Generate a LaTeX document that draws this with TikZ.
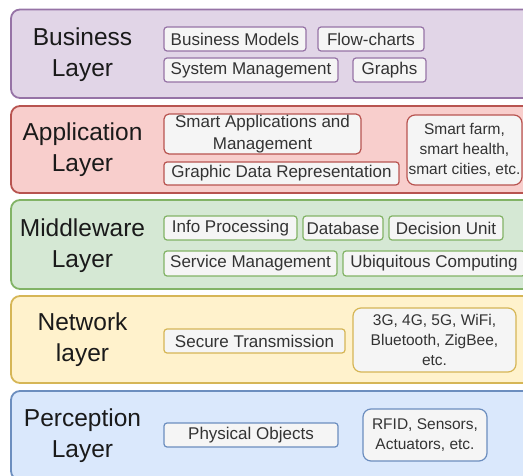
\documentclass[tikz,border=0pt]{standalone}
\usepackage{fontspec}
\setmainfont{Liberation Sans}
\definecolor{bizfill}{HTML}{E1D5E7}\definecolor{bizline}{HTML}{9673A6}
\definecolor{appfill}{HTML}{F8CECC}\definecolor{appline}{HTML}{B85450}
\definecolor{midfill}{HTML}{D5E8D4}\definecolor{midline}{HTML}{82B366}
\definecolor{netfill}{HTML}{FFF2CC}\definecolor{netline}{HTML}{D6B656}
\definecolor{perfill}{HTML}{DAE8FC}\definecolor{perline}{HTML}{6C8EBF}
\definecolor{boxfill}{HTML}{F5F5F5}\definecolor{boxtext}{HTML}{333333}
\definecolor{labeltext}{HTML}{1A1A1A}
\begin{document}
\begin{tikzpicture}[x=1pt,y=-1pt,
  layerbox/.style={draw, rounded corners=9pt, line width=1.8pt, inner sep=0pt, minimum width=534pt},
  layertitle/.style={align=center, text=labeltext, inner sep=0pt,
    font=\fontsize{24.5}{31}\selectfont},
  ibox/.style={draw, fill=boxfill, rounded corners=3pt, line width=1.2pt, inner sep=0pt,
    text=boxtext, font=\fontsize{17}{21.7}\selectfont, align=center},
  mbox/.style={ibox, rounded corners=8pt, font=\fontsize{15.5}{20}\selectfont}]
\useasboundingbox (0,0) rectangle (523,476);
\clip (0,0) rectangle (523,476);

% layer bands
\node[layerbox, fill=bizfill, draw=bizline, minimum height=88.5pt] (biz) at (278,53.75) {};
\node[layerbox, fill=appfill, draw=appline, minimum height=87pt]   (app) at (278,149.5) {};
\node[layerbox, fill=midfill, draw=midline, minimum height=89pt]   (mid) at (278,244.5) {};
\node[layerbox, fill=netfill, draw=netline, minimum height=87pt]   (net) at (278,339.5) {};
\node[layerbox, fill=perfill, draw=perline, minimum height=89pt]   (per) at (278,435.5) {};

% layer titles
\node[layertitle] (bizt) at (82.5,55) {Business\\Layer};
\node[layertitle] (appt) at (82.5,150) {Application\\Layer};
\node[layertitle] (midt) at (82.5,246) {Middleware\\Layer};
\node[layertitle] (nett) at (82.5,340) {Network\\layer};
\node[layertitle] (pert) at (82.5,435.5) {Perception\\Layer};

% business layer
\node[ibox, draw=bizline, minimum width=142pt, minimum height=24pt] (bm) at (235,39) {Business Models};
\node[ibox, draw=bizline, minimum width=106pt, minimum height=24pt] (fc) at (371,39) {Flow-charts};
\node[ibox, draw=bizline, minimum width=174pt, minimum height=24pt] (sm) at (251,70) {System Management};
\node[ibox, draw=bizline, minimum width=73pt,  minimum height=24pt] (gr) at (389.5,70) {Graphs};

% application layer
\node[ibox, draw=appline, rounded corners=5pt, minimum width=197pt, minimum height=40pt] (sa) at (262.5,134) {Smart Applications and\\Management};
\node[ibox, draw=appline, minimum width=235pt, minimum height=23pt] (gd) at (281.5,173.5) {Graphic Data Representation};
\node[mbox, draw=appline, minimum width=115pt, minimum height=70pt] (sf) at (464.5,150) {Smart farm,\\smart health,\\smart cities, etc.};

% middleware layer
\node[ibox, draw=midline, minimum width=133pt, minimum height=24pt] (ip) at (230.5,228) {Info Processing};
\node[ibox, draw=midline, minimum width=80pt,  minimum height=24pt] (db) at (343,228) {Database};
\node[ibox, draw=midline, minimum width=114pt, minimum height=24pt] (du) at (446,228) {Decision Unit};
\node[ibox, draw=midline, minimum width=173pt, minimum height=25pt] (svm) at (250.5,263.5) {Service Management};
\node[ibox, draw=midline, minimum width=182pt, minimum height=25pt] (uc) at (434,263.5) {Ubiquitous Computing};

% network layer
\node[ibox, draw=netline, minimum width=181pt, minimum height=24pt] (st) at (254.5,341) {Secure Transmission};
\node[mbox, draw=netline, minimum width=163pt, minimum height=64pt] (tg) at (434.5,340) {3G, 4G, 5G, WiFi,\\Bluetooth, ZigBee,\\etc.};

% perception layer
\node[ibox, draw=perline, minimum width=174pt, minimum height=24pt] (po) at (251,435) {Physical Objects};
\node[mbox, draw=perline, minimum width=124pt, minimum height=52pt] (rf) at (425,435) {RFID, Sensors,\\Actuators, etc.};
\end{tikzpicture}
\end{document}
